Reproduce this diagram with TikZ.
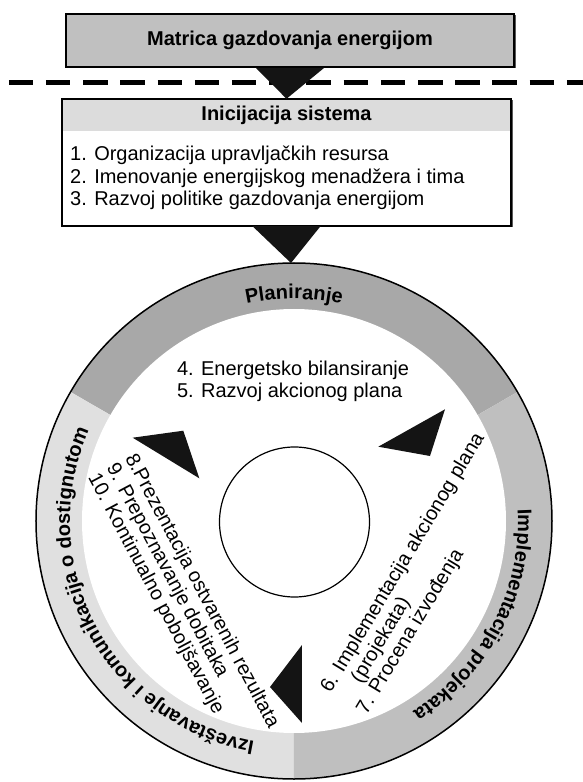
\documentclass[tikz,border=0pt]{standalone}
\usepackage{fontspec}
\setmainfont{Liberation Sans}
\usetikzlibrary{positioning,calc,decorations.text}
\definecolor{matgray}{HTML}{C0C0C0}
\definecolor{headgray}{HTML}{DCDCDC}
\definecolor{plangray}{HTML}{A8A8A8}
\definecolor{impgray}{HTML}{BFBFBF}
\definecolor{izvgray}{HTML}{E0E0E0}
\newcommand\ringfont{\bfseries\fontsize{20}{24}\selectfont}
\tikzset{
	boxline/.style={draw=black, line width=2pt},
	shadowbox/.style={fill=black!65},
	matbox/.style={boxline, fill=matgray, minimum width=448pt, minimum height=53pt, inner sep=0pt, font=\bfseries\fontsize{20}{24}\selectfont},
	initbox/.style={fill=white, minimum width=449pt, minimum height=127pt, inner sep=0pt},
	headband/.style={fill=headgray, minimum width=449pt, minimum height=32pt, inner sep=0pt, font=\bfseries\fontsize{20}{24}\selectfont},
	listtext/.style={align=left, inner sep=0pt, font=\fontsize{20}{22.5}\selectfont},
	itemtext/.style={align=left, inner sep=0pt, font=\fontsize{20}{21}\selectfont},
	pointer/.style={fill=black!92},
	ringlabel/.style={decorate, decoration={text along path, text align=center, text={|\ringfont|#1}}}
}

\begin{document}
\begin{tikzpicture}[x=1pt,y=1pt]
	\useasboundingbox (-294,-261) rectangle (289,521);

	%%% gornji deo
	\draw[line width=5pt, dash pattern=on 24.5pt off 12.7pt, dash phase=28.4pt] (-294,438.5) -- (289,438.5);

	\fill[shadowbox] (-226.5,452.5) rectangle (221.5,505.5);
	\node[matbox] (matrica) at (-4,480.5) {Matrica gazdovanja energijom};

	\fill[shadowbox] (-230.5,293.5) rectangle (218.5,420.5);
	\node[initbox] (inicijacija) at (-7.5,358.5) {};
	\node[headband, anchor=north] (naslov) at (inicijacija.north) {Inicijacija sistema};
	\draw[boxline] (inicijacija.north west) rectangle (inicijacija.south east);
	\node[listtext, anchor=west] (lista) at (-224,343) {1. Organizacija upravljačkih resursa\\2. Imenovanje energijskog menadžera i tima\\3. Razvoj politike gazdovanja energijom};

	\fill[pointer] ($(matrica.south)+(-34,0)$) -- ($(matrica.south)+(34,0)$) -- (inicijacija.north) -- cycle;

	%%% krug
	\fill[plangray] (0,0) -- (30:258) arc[start angle=30, end angle=150, radius=258] -- cycle;
	\fill[izvgray] (0,0) -- (150:258) arc[start angle=150, end angle=270, radius=258] -- cycle;
	\fill[impgray] (0,0) -- (270:258) arc[start angle=270, end angle=390, radius=258] -- cycle;
	\fill[white] (0,0) circle (212);
	\draw[line width=1.5pt] (0,0) circle (258);
	\coordinate (vrh) at (90:258);

	\fill[pointer] ($(inicijacija.south)+(-34,0)$) -- ($(inicijacija.south)+(34,0)$) -- ($(vrh)+(-3,0)$) -- cycle;

	\node[circle, draw, line width=1.2pt, fill=white, minimum size=150pt, inner sep=0pt] (sredina) at (0.5,-1) {};

	\path[ringlabel=Planiranje] (160:222) arc[start angle=160, end angle=20, radius=222];
	\path[ringlabel=Implementacija projekata] (40:224) arc[start angle=40, end angle=-95, radius=224];
	\path[ringlabel=Izveštavanje i komunikacija o dostignutom] (275:224) arc[start angle=275, end angle=141, radius=224];

	\node[listtext] (faza1) at (-1,139.5) {4. Energetsko bilansiranje\\5. Razvoj akcionog plana};
	\node[itemtext, rotate=59] (faza2) at (127.2,-53) {6. Implementacija akcionog plana\\\phantom{6. }(projekata)\\7. Procena izvođenja};
	\node[itemtext, rotate=-62] (faza3) at (-111,-80) {8.Prezentacija ostvarenih rezultata\\9. Prepoznavanje dobitaka\\10. Kontinualno poboljšavanje};

	%%% strelice u krugu
	\fill[pointer] (-161.3,83.3) -- (-110.7,90.3) -- (-94.7,42.7) -- cycle;
	\fill[pointer] (84.3,74.3) -- (151,111.7) -- (136,65) -- cycle;
	\fill[pointer] (-24,-166) -- (8,-124) -- (8,-202) -- cycle;
\end{tikzpicture}
\end{document}
